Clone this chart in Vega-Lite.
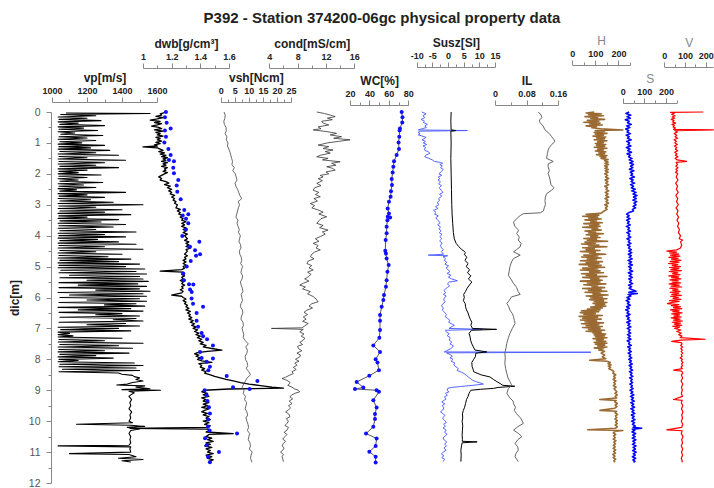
{
"$schema":"https://vega.github.io/schema/vega-lite/v6.json",
"width":662,"height":371,
"autosize":{"type":"none"},
"padding":{"left":51,"top":112,"right":1,"bottom":5},
"background":"white",
"title":{"text":"P392 - Station 374200-06gc physical property data","anchor":"middle","font":"Liberation Sans","fontSize":15,"fontWeight":"bold","color":"#222","offset":8},
"config":{"view":{"stroke":null},
"axis":{"grid":false,"domainColor":"#888","tickColor":"#888","labelFont":"Liberation Sans","labelFontSize":9,"labelFontWeight":"bold","labelColor":"#222","titleFont":"Liberation Sans","titleFontSize":12,"titleFontWeight":"bold","titleColor":"#222","labelFlush":false,"labelOverlap":false,"labelPadding":2,"titlePadding":2,"tickSize":5}},
"datasets":{
"vp":[{"d":0.03,"v":1080},{"d":0.05,"v":1560},{"d":0.08,"v":1050},{"d":0.12,"v":1250},{"d":0.16,"v":1035},{"d":0.2,"v":1200},{"d":0.24,"v":1040},{"d":0.28,"v":1280},{"d":0.32,"v":1035},{"d":0.36,"v":1150},{"d":0.4,"v":1045},{"d":0.44,"v":1300},{"d":0.48,"v":1035},{"d":0.52,"v":1180},{"d":0.56,"v":1040},{"d":0.6,"v":1260},{"d":0.64,"v":1035},{"d":0.68,"v":1130},{"d":0.72,"v":1050},{"d":0.76,"v":1290},{"d":0.8,"v":1040},{"d":0.84,"v":1200},{"d":0.88,"v":1035},{"d":0.92,"v":1250},{"d":0.96,"v":1045},{"d":1.0,"v":1170},{"d":1.04,"v":1035},{"d":1.08,"v":1300},{"d":1.12,"v":1040},{"d":1.16,"v":1220},{"d":1.2,"v":1035},{"d":1.24,"v":1330},{"d":1.28,"v":1045},{"d":1.32,"v":1250},{"d":1.36,"v":1035},{"d":1.4,"v":1380},{"d":1.44,"v":1040},{"d":1.48,"v":1200},{"d":1.52,"v":1035},{"d":1.56,"v":1420},{"d":1.6,"v":1040},{"d":1.64,"v":1300},{"d":1.68,"v":1035},{"d":1.72,"v":1250},{"d":1.76,"v":1045},{"d":1.8,"v":1380},{"d":1.84,"v":1035},{"d":1.88,"v":1200},{"d":1.92,"v":1040},{"d":1.96,"v":1150},{"d":2.0,"v":1035},{"d":2.04,"v":1280},{"d":2.08,"v":1040},{"d":2.12,"v":1200},{"d":2.16,"v":1035},{"d":2.2,"v":1150},{"d":2.24,"v":1045},{"d":2.28,"v":1290},{"d":2.32,"v":1035},{"d":2.36,"v":1180},{"d":2.4,"v":1040},{"d":2.44,"v":1250},{"d":2.48,"v":1035},{"d":2.52,"v":1140},{"d":2.56,"v":1045},{"d":2.6,"v":1420},{"d":2.64,"v":1035},{"d":2.68,"v":1200},{"d":2.72,"v":1040},{"d":2.76,"v":1300},{"d":2.8,"v":1035},{"d":2.84,"v":1220},{"d":2.88,"v":1045},{"d":2.92,"v":1350},{"d":2.96,"v":1035},{"d":3.0,"v":1520},{"d":3.04,"v":1040},{"d":3.08,"v":1250},{"d":3.12,"v":1035},{"d":3.16,"v":1400},{"d":3.2,"v":1045},{"d":3.24,"v":1300},{"d":3.28,"v":1035},{"d":3.32,"v":1450},{"d":3.36,"v":1040},{"d":3.4,"v":1200},{"d":3.44,"v":1035},{"d":3.48,"v":1380},{"d":3.52,"v":1045},{"d":3.56,"v":1280},{"d":3.6,"v":1035},{"d":3.64,"v":1420},{"d":3.68,"v":1040},{"d":3.72,"v":1350},{"d":3.76,"v":1035},{"d":3.8,"v":1250},{"d":3.84,"v":1045},{"d":3.88,"v":1480},{"d":3.92,"v":1035},{"d":3.96,"v":1300},{"d":4.0,"v":1040},{"d":4.04,"v":1420},{"d":4.08,"v":1035},{"d":4.12,"v":1260},{"d":4.16,"v":1045},{"d":4.2,"v":1380},{"d":4.24,"v":1035},{"d":4.28,"v":1480},{"d":4.32,"v":1040},{"d":4.36,"v":1300},{"d":4.4,"v":1035},{"d":4.44,"v":1520},{"d":4.48,"v":1045},{"d":4.52,"v":1250},{"d":4.56,"v":1035},{"d":4.6,"v":1400},{"d":4.64,"v":1040},{"d":4.68,"v":1320},{"d":4.72,"v":1035},{"d":4.76,"v":1450},{"d":4.8,"v":1045},{"d":4.84,"v":1380},{"d":4.88,"v":1035},{"d":4.92,"v":1500},{"d":4.96,"v":1040},{"d":5.0,"v":1420},{"d":5.04,"v":1035},{"d":5.08,"v":1530},{"d":5.12,"v":1050},{"d":5.16,"v":1480},{"d":5.2,"v":1040},{"d":5.24,"v":1540},{"d":5.28,"v":1100},{"d":5.32,"v":1500},{"d":5.36,"v":1045},{"d":5.4,"v":1520},{"d":5.44,"v":1200},{"d":5.48,"v":1550},{"d":5.52,"v":1040},{"d":5.56,"v":1490},{"d":5.6,"v":1150},{"d":5.64,"v":1540},{"d":5.68,"v":1040},{"d":5.72,"v":1500},{"d":5.76,"v":1250},{"d":5.8,"v":1560},{"d":5.84,"v":1035},{"d":5.88,"v":1520},{"d":5.92,"v":1100},{"d":5.96,"v":1540},{"d":6.0,"v":1045},{"d":6.04,"v":1500},{"d":6.08,"v":1200},{"d":6.12,"v":1540},{"d":6.16,"v":1040},{"d":6.2,"v":1480},{"d":6.24,"v":1300},{"d":6.28,"v":1530},{"d":6.32,"v":1035},{"d":6.36,"v":1450},{"d":6.4,"v":1150},{"d":6.44,"v":1520},{"d":6.48,"v":1040},{"d":6.52,"v":1400},{"d":6.56,"v":1250},{"d":6.6,"v":1500},{"d":6.64,"v":1045},{"d":6.68,"v":1480},{"d":6.72,"v":1350},{"d":6.76,"v":1520},{"d":6.8,"v":1040},{"d":6.84,"v":1420},{"d":6.88,"v":1200},{"d":6.92,"v":1500},{"d":6.96,"v":1035},{"d":7.0,"v":1380},{"d":7.04,"v":1050},{"d":7.08,"v":1450},{"d":7.12,"v":1035},{"d":7.16,"v":1100},{"d":7.2,"v":1035},{"d":7.24,"v":1120},{"d":7.28,"v":1035},{"d":7.32,"v":1400},{"d":7.36,"v":1040},{"d":7.4,"v":1300},{"d":7.44,"v":1035},{"d":7.48,"v":1520},{"d":7.52,"v":1045},{"d":7.56,"v":1380},{"d":7.6,"v":1035},{"d":7.64,"v":1460},{"d":7.68,"v":1040},{"d":7.72,"v":1300},{"d":7.76,"v":1035},{"d":7.8,"v":1440},{"d":7.84,"v":1045},{"d":7.88,"v":1250},{"d":7.92,"v":1035},{"d":7.96,"v":1350},{"d":8.0,"v":1040},{"d":8.04,"v":1150},{"d":8.08,"v":1035},{"d":8.12,"v":1470},{"d":8.16,"v":1045},{"d":8.2,"v":1520},{"d":8.24,"v":1040},{"d":8.28,"v":1480},{"d":8.32,"v":1060},{"d":8.36,"v":1500},{"d":8.4,"v":1040},{"d":8.44,"v":1380},{"d":8.48,"v":1400},{"d":8.52,"v":1460},{"d":8.56,"v":1470},{"d":8.6,"v":1500},{"d":8.65,"v":1480},{"d":8.7,"v":1520},{"d":8.75,"v":1460},{"d":8.8,"v":1430},{"d":8.83,"v":1370},{"d":8.86,"v":1530},{"d":8.9,"v":1480},{"d":8.95,"v":1560},{"d":8.98,"v":1400},{"d":9.0,"v":1620},{"d":9.03,"v":1440},{"d":9.08,"v":1470},{"d":9.15,"v":1450},{"d":9.2,"v":1440},{"d":9.3,"v":1455},{"d":9.4,"v":1445},{"d":9.5,"v":1450},{"d":9.6,"v":1440},{"d":9.7,"v":1455},{"d":9.8,"v":1445},{"d":9.9,"v":1450},{"d":10.0,"v":1440},{"d":10.05,"v":1460},{"d":10.1,"v":1140},{"d":10.13,"v":1450},{"d":10.17,"v":1530},{"d":10.2,"v":1430},{"d":10.25,"v":1500},{"d":10.3,"v":1450},{"d":10.4,"v":1440},{"d":10.5,"v":1450},{"d":10.6,"v":1445},{"d":10.7,"v":1450},{"d":10.78,"v":1440},{"d":10.8,"v":1035},{"d":10.83,"v":1450},{"d":10.9,"v":1445},{"d":11.0,"v":1450},{"d":11.05,"v":1100},{"d":11.08,"v":1440},{"d":11.15,"v":1480},{"d":11.2,"v":1380},{"d":11.24,"v":1520},{"d":11.28,"v":1400},{"d":11.32,"v":1450}],
"dwb":[{"d":0.02,"v":1.15},{"d":0.06,"v":1.12},{"d":0.1,"v":1.13},{"d":0.14,"v":1.09},{"d":0.18,"v":1.14},{"d":0.22,"v":1.1},{"d":0.26,"v":1.05},{"d":0.3,"v":1.12},{"d":0.34,"v":1.08},{"d":0.38,"v":1.13},{"d":0.42,"v":1.1},{"d":0.46,"v":1.06},{"d":0.5,"v":1.11},{"d":0.54,"v":1.13},{"d":0.58,"v":1.08},{"d":0.62,"v":1.14},{"d":0.66,"v":1.09},{"d":0.7,"v":1.12},{"d":0.74,"v":1.1},{"d":0.78,"v":1.14},{"d":0.82,"v":1.09},{"d":0.86,"v":1.12},{"d":0.9,"v":1.1},{"d":0.94,"v":1.13},{"d":0.98,"v":1.09},{"d":1.02,"v":1.12},{"d":1.06,"v":1.08},{"d":1.1,"v":1.1},{"d":1.13,"v":1.0},{"d":1.16,"v":1.1},{"d":1.2,"v":1.12},{"d":1.24,"v":1.14},{"d":1.28,"v":1.11},{"d":1.32,"v":1.15},{"d":1.36,"v":1.12},{"d":1.4,"v":1.16},{"d":1.44,"v":1.13},{"d":1.48,"v":1.17},{"d":1.52,"v":1.14},{"d":1.56,"v":1.16},{"d":1.6,"v":1.13},{"d":1.64,"v":1.17},{"d":1.68,"v":1.14},{"d":1.72,"v":1.16},{"d":1.76,"v":1.13},{"d":1.8,"v":1.17},{"d":1.84,"v":1.15},{"d":1.88,"v":1.16},{"d":1.92,"v":1.14},{"d":1.96,"v":1.17},{"d":2.0,"v":1.15},{"d":2.05,"v":1.13},{"d":2.1,"v":1.11},{"d":2.15,"v":1.13},{"d":2.2,"v":1.12},{"d":2.25,"v":1.16},{"d":2.3,"v":1.18},{"d":2.35,"v":1.15},{"d":2.4,"v":1.19},{"d":2.45,"v":1.17},{"d":2.5,"v":1.2},{"d":2.55,"v":1.18},{"d":2.6,"v":1.2},{"d":2.65,"v":1.19},{"d":2.7,"v":1.22},{"d":2.75,"v":1.2},{"d":2.8,"v":1.22},{"d":2.85,"v":1.21},{"d":2.9,"v":1.23},{"d":2.95,"v":1.22},{"d":3.0,"v":1.24},{"d":3.1,"v":1.23},{"d":3.15,"v":1.26},{"d":3.2,"v":1.24},{"d":3.25,"v":1.26},{"d":3.3,"v":1.25},{"d":3.35,"v":1.28},{"d":3.4,"v":1.26},{"d":3.45,"v":1.28},{"d":3.5,"v":1.27},{"d":3.55,"v":1.3},{"d":3.6,"v":1.27},{"d":3.65,"v":1.29},{"d":3.7,"v":1.27},{"d":3.75,"v":1.3},{"d":3.8,"v":1.28},{"d":3.85,"v":1.3},{"d":3.9,"v":1.28},{"d":3.95,"v":1.31},{"d":4.0,"v":1.29},{"d":4.1,"v":1.31},{"d":4.15,"v":1.29},{"d":4.2,"v":1.32},{"d":4.25,"v":1.3},{"d":4.3,"v":1.32},{"d":4.35,"v":1.3},{"d":4.4,"v":1.33},{"d":4.45,"v":1.3},{"d":4.5,"v":1.31},{"d":4.6,"v":1.29},{"d":4.65,"v":1.31},{"d":4.7,"v":1.29},{"d":4.75,"v":1.3},{"d":4.8,"v":1.28},{"d":4.85,"v":1.3},{"d":4.9,"v":1.28},{"d":4.95,"v":1.3},{"d":5.0,"v":1.28},{"d":5.05,"v":1.29},{"d":5.1,"v":1.27},{"d":5.15,"v":1.12},{"d":5.18,"v":1.28},{"d":5.25,"v":1.27},{"d":5.3,"v":1.29},{"d":5.35,"v":1.27},{"d":5.4,"v":1.28},{"d":5.45,"v":1.26},{"d":5.5,"v":1.28},{"d":5.55,"v":1.27},{"d":5.6,"v":1.29},{"d":5.65,"v":1.27},{"d":5.7,"v":1.28},{"d":5.75,"v":1.26},{"d":5.8,"v":1.28},{"d":5.85,"v":1.27},{"d":5.92,"v":1.2},{"d":5.96,"v":1.27},{"d":6.0,"v":1.28},{"d":6.05,"v":1.3},{"d":6.1,"v":1.28},{"d":6.15,"v":1.3},{"d":6.2,"v":1.29},{"d":6.25,"v":1.31},{"d":6.3,"v":1.3},{"d":6.35,"v":1.32},{"d":6.4,"v":1.3},{"d":6.45,"v":1.33},{"d":6.5,"v":1.31},{"d":6.55,"v":1.33},{"d":6.6,"v":1.32},{"d":6.65,"v":1.34},{"d":6.7,"v":1.32},{"d":6.75,"v":1.35},{"d":6.8,"v":1.33},{"d":6.85,"v":1.36},{"d":6.9,"v":1.34},{"d":6.95,"v":1.37},{"d":7.0,"v":1.35},{"d":7.05,"v":1.38},{"d":7.1,"v":1.36},{"d":7.15,"v":1.39},{"d":7.2,"v":1.37},{"d":7.25,"v":1.4},{"d":7.3,"v":1.38},{"d":7.35,"v":1.41},{"d":7.4,"v":1.39},{"d":7.45,"v":1.42},{"d":7.5,"v":1.4},{"d":7.55,"v":1.44},{"d":7.6,"v":1.42},{"d":7.65,"v":1.48},{"d":7.7,"v":1.55},{"d":7.74,"v":1.45},{"d":7.78,"v":1.38},{"d":7.82,"v":1.36},{"d":7.86,"v":1.39},{"d":7.9,"v":1.37},{"d":7.95,"v":1.4},{"d":8.0,"v":1.38},{"d":8.05,"v":1.41},{"d":8.1,"v":1.48},{"d":8.14,"v":1.39},{"d":8.2,"v":1.41},{"d":8.25,"v":1.4},{"d":8.3,"v":1.43},{"d":8.35,"v":1.41},{"d":8.4,"v":1.44},{"d":8.45,"v":1.43},{"d":8.5,"v":1.47},{"d":8.55,"v":1.5},{"d":8.6,"v":1.54},{"d":8.65,"v":1.58},{"d":8.7,"v":1.63},{"d":8.75,"v":1.68},{"d":8.8,"v":1.74},{"d":8.85,"v":1.82},{"d":8.9,"v":1.9},{"d":8.93,"v":1.98},{"d":8.96,"v":1.6},{"d":9.0,"v":1.43},{"d":9.05,"v":1.41},{"d":9.1,"v":1.45},{"d":9.15,"v":1.42},{"d":9.2,"v":1.46},{"d":9.25,"v":1.41},{"d":9.3,"v":1.44},{"d":9.35,"v":1.42},{"d":9.4,"v":1.46},{"d":9.45,"v":1.42},{"d":9.5,"v":1.45},{"d":9.55,"v":1.41},{"d":9.6,"v":1.46},{"d":9.65,"v":1.43},{"d":9.7,"v":1.41},{"d":9.75,"v":1.45},{"d":9.8,"v":1.42},{"d":9.85,"v":1.46},{"d":9.9,"v":1.44},{"d":9.95,"v":1.47},{"d":10.0,"v":1.42},{"d":10.05,"v":1.46},{"d":10.1,"v":1.43},{"d":10.15,"v":1.47},{"d":10.2,"v":1.44},{"d":10.23,"v":0.91},{"d":10.26,"v":1.45},{"d":10.3,"v":1.47},{"d":10.35,"v":1.44},{"d":10.4,"v":1.63},{"d":10.43,"v":1.46},{"d":10.5,"v":1.44},{"d":10.55,"v":1.48},{"d":10.6,"v":1.45},{"d":10.65,"v":1.49},{"d":10.7,"v":1.44},{"d":10.75,"v":1.47},{"d":10.8,"v":1.43},{"d":10.85,"v":1.48},{"d":10.9,"v":1.44},{"d":10.95,"v":1.47},{"d":11.0,"v":1.45},{"d":11.05,"v":1.49},{"d":11.1,"v":1.44},{"d":11.15,"v":1.48},{"d":11.2,"v":1.45},{"d":11.25,"v":1.49},{"d":11.3,"v":1.46},{"d":11.33,"v":1.47}],
"dwbp":[{"d":0.0,"v":1.16},{"d":0.17,"v":1.153},{"d":0.35,"v":1.165},{"d":0.53,"v":1.193},{"d":0.6,"v":1.153},{"d":0.8,"v":1.16},{"d":0.99,"v":1.149},{"d":1.2,"v":1.177},{"d":1.39,"v":1.193},{"d":1.55,"v":1.181},{"d":1.59,"v":1.216},{"d":1.8,"v":1.211},{"d":1.98,"v":1.216},{"d":2.2,"v":1.246},{"d":2.38,"v":1.235},{"d":2.58,"v":1.239},{"d":2.82,"v":1.263},{"d":3.17,"v":1.288},{"d":3.31,"v":1.316},{"d":3.35,"v":1.277},{"d":3.45,"v":1.3},{"d":3.6,"v":1.316},{"d":3.8,"v":1.3},{"d":4.01,"v":1.274},{"d":4.2,"v":1.393},{"d":4.36,"v":1.328},{"d":4.47,"v":1.363},{"d":4.6,"v":1.398},{"d":4.65,"v":1.37},{"d":4.82,"v":1.333},{"d":5.0,"v":1.305},{"d":5.22,"v":1.281},{"d":5.44,"v":1.286},{"d":5.57,"v":1.321},{"d":5.58,"v":1.351},{"d":5.74,"v":1.328},{"d":5.82,"v":1.34},{"d":6.03,"v":1.339},{"d":6.2,"v":1.349},{"d":6.3,"v":1.419},{"d":6.5,"v":1.374},{"d":6.75,"v":1.374},{"d":6.95,"v":1.384},{"d":7.15,"v":1.409},{"d":7.25,"v":1.419},{"d":7.35,"v":1.447},{"d":7.55,"v":1.488},{"d":7.76,"v":1.398},{"d":7.96,"v":1.409},{"d":7.97,"v":1.488},{"d":8.08,"v":1.444},{"d":8.24,"v":1.467},{"d":8.35,"v":1.456},{"d":8.54,"v":1.584},{"d":8.7,"v":1.798},{"d":8.9,"v":1.628},{"d":8.96,"v":1.744},{"d":9.0,"v":1.43},{"d":9.16,"v":1.444},{"d":9.35,"v":1.45},{"d":9.55,"v":1.46},{"d":9.75,"v":1.467},{"d":9.95,"v":1.455},{"d":10.18,"v":1.453},{"d":10.3,"v":1.465},{"d":10.4,"v":1.656},{"d":10.55,"v":1.433},{"d":10.78,"v":1.444},{"d":11.0,"v":1.53},{"d":11.15,"v":1.453},{"d":11.33,"v":1.467}],
"vsh":[{"d":0.0,"v":1.2},{"d":0.1,"v":1.6},{"d":0.2,"v":1.5},{"d":0.3,"v":1.1},{"d":0.4,"v":1.3},{"d":0.5,"v":1.9},{"d":0.6,"v":2.0},{"d":0.7,"v":1.6},{"d":0.8,"v":2.2},{"d":0.9,"v":2.0},{"d":1.0,"v":2.6},{"d":1.1,"v":2.4},{"d":1.2,"v":2.9},{"d":1.3,"v":3.3},{"d":1.4,"v":3.6},{"d":1.5,"v":3.9},{"d":1.6,"v":4.2},{"d":1.7,"v":4.0},{"d":1.8,"v":4.8},{"d":1.9,"v":4.3},{"d":2.0,"v":5.2},{"d":2.1,"v":5.5},{"d":2.2,"v":5.8},{"d":2.3,"v":5.1},{"d":2.4,"v":5.4},{"d":2.5,"v":6.0},{"d":2.6,"v":6.4},{"d":2.7,"v":6.8},{"d":2.8,"v":7.5},{"d":2.9,"v":6.2},{"d":3.0,"v":6.7},{"d":3.1,"v":6.3},{"d":3.2,"v":6.0},{"d":3.3,"v":5.7},{"d":3.4,"v":5.4},{"d":3.5,"v":6.1},{"d":3.6,"v":5.8},{"d":3.7,"v":6.2},{"d":3.8,"v":6.6},{"d":3.9,"v":6.3},{"d":4.0,"v":7.0},{"d":4.1,"v":6.7},{"d":4.2,"v":6.5},{"d":4.3,"v":7.1},{"d":4.4,"v":7.2},{"d":4.5,"v":6.6},{"d":4.6,"v":6.8},{"d":4.7,"v":7.3},{"d":4.8,"v":7.5},{"d":4.9,"v":7.1},{"d":5.0,"v":7.8},{"d":5.1,"v":7.4},{"d":5.2,"v":7.2},{"d":5.3,"v":7.8},{"d":5.4,"v":7.6},{"d":5.5,"v":7.0},{"d":5.6,"v":7.3},{"d":5.7,"v":7.7},{"d":5.8,"v":7.9},{"d":5.9,"v":7.3},{"d":6.0,"v":7.5},{"d":6.1,"v":7.8},{"d":6.2,"v":7.2},{"d":6.3,"v":7.0},{"d":6.4,"v":7.7},{"d":6.5,"v":7.9},{"d":6.6,"v":7.4},{"d":6.7,"v":7.2},{"d":6.8,"v":7.9},{"d":6.9,"v":8.1},{"d":7.0,"v":7.6},{"d":7.1,"v":7.9},{"d":7.2,"v":8.2},{"d":7.3,"v":8.0},{"d":7.4,"v":8.8},{"d":7.5,"v":9.8},{"d":7.6,"v":8.9},{"d":7.7,"v":9.5},{"d":7.8,"v":9.3},{"d":7.9,"v":8.7},{"d":8.0,"v":8.8},{"d":8.1,"v":9.4},{"d":8.2,"v":9.6},{"d":8.3,"v":9.1},{"d":8.4,"v":10.0},{"d":8.5,"v":10.6},{"d":8.6,"v":9.4},{"d":8.7,"v":8.8},{"d":8.8,"v":8.2},{"d":8.9,"v":7.6},{"d":9.0,"v":8.3},{"d":9.1,"v":8.0},{"d":9.2,"v":8.8},{"d":9.3,"v":8.5},{"d":9.4,"v":9.2},{"d":9.5,"v":9.0},{"d":9.6,"v":8.7},{"d":9.7,"v":9.3},{"d":9.8,"v":9.6},{"d":9.9,"v":9.0},{"d":10.0,"v":9.3},{"d":10.1,"v":9.7},{"d":10.2,"v":9.9},{"d":10.3,"v":9.5},{"d":10.4,"v":10.3},{"d":10.5,"v":10.0},{"d":10.6,"v":9.8},{"d":10.7,"v":10.4},{"d":10.8,"v":10.6},{"d":10.9,"v":10.2},{"d":11.0,"v":11.2},{"d":11.1,"v":10.8},{"d":11.2,"v":10.6},{"d":11.33,"v":11.1}],
"cond":[{"d":0.0,"v":10.7},{"d":0.05,"v":11.8},{"d":0.1,"v":12.6},{"d":0.15,"v":13.3},{"d":0.2,"v":12.2},{"d":0.25,"v":12.9},{"d":0.3,"v":11.4},{"d":0.36,"v":11.6},{"d":0.42,"v":12.4},{"d":0.48,"v":10.9},{"d":0.54,"v":11.3},{"d":0.58,"v":10.2},{"d":0.63,"v":12.0},{"d":0.69,"v":13.5},{"d":0.74,"v":12.6},{"d":0.8,"v":14.2},{"d":0.85,"v":13.1},{"d":0.9,"v":15.4},{"d":0.95,"v":13.8},{"d":1.0,"v":12.2},{"d":1.07,"v":10.9},{"d":1.12,"v":12.4},{"d":1.18,"v":11.6},{"d":1.23,"v":13.0},{"d":1.28,"v":11.9},{"d":1.33,"v":12.6},{"d":1.4,"v":11.2},{"d":1.45,"v":10.7},{"d":1.5,"v":12.3},{"d":1.55,"v":11.5},{"d":1.61,"v":14.0},{"d":1.66,"v":12.8},{"d":1.72,"v":13.4},{"d":1.77,"v":12.1},{"d":1.82,"v":12.9},{"d":1.88,"v":13.3},{"d":1.94,"v":12.0},{"d":2.0,"v":12.4},{"d":2.05,"v":11.2},{"d":2.1,"v":11.6},{"d":2.16,"v":10.9},{"d":2.22,"v":11.5},{"d":2.31,"v":10.7},{"d":2.38,"v":11.3},{"d":2.45,"v":10.4},{"d":2.53,"v":10.2},{"d":2.6,"v":11.0},{"d":2.67,"v":10.5},{"d":2.74,"v":11.2},{"d":2.8,"v":10.3},{"d":2.88,"v":10.8},{"d":2.96,"v":9.8},{"d":3.03,"v":10.4},{"d":3.1,"v":10.0},{"d":3.17,"v":10.9},{"d":3.24,"v":11.6},{"d":3.3,"v":11.0},{"d":3.39,"v":12.1},{"d":3.45,"v":11.3},{"d":3.52,"v":11.0},{"d":3.6,"v":10.7},{"d":3.67,"v":11.6},{"d":3.74,"v":11.1},{"d":3.82,"v":12.3},{"d":3.88,"v":11.5},{"d":3.95,"v":11.9},{"d":4.03,"v":11.2},{"d":4.1,"v":10.5},{"d":4.18,"v":11.0},{"d":4.25,"v":10.2},{"d":4.32,"v":10.9},{"d":4.4,"v":10.6},{"d":4.46,"v":11.2},{"d":4.53,"v":10.4},{"d":4.6,"v":10.0},{"d":4.68,"v":9.8},{"d":4.75,"v":10.3},{"d":4.82,"v":9.5},{"d":4.9,"v":9.3},{"d":4.97,"v":10.0},{"d":5.04,"v":9.6},{"d":5.11,"v":10.2},{"d":5.18,"v":9.4},{"d":5.25,"v":9.9},{"d":5.33,"v":9.5},{"d":5.4,"v":9.0},{"d":5.47,"v":9.6},{"d":5.54,"v":8.8},{"d":5.6,"v":8.3},{"d":5.66,"v":9.1},{"d":5.72,"v":8.7},{"d":5.81,"v":9.8},{"d":5.88,"v":9.4},{"d":5.97,"v":10.2},{"d":6.05,"v":10.6},{"d":6.14,"v":10.9},{"d":6.2,"v":10.0},{"d":6.28,"v":9.6},{"d":6.34,"v":10.1},{"d":6.41,"v":9.3},{"d":6.48,"v":8.9},{"d":6.55,"v":9.4},{"d":6.63,"v":8.8},{"d":6.7,"v":9.2},{"d":6.77,"v":8.7},{"d":6.84,"v":9.5},{"d":6.92,"v":9.0},{"d":6.98,"v":8.6},{"d":7.0,"v":4.3},{"d":7.03,"v":8.8},{"d":7.11,"v":8.3},{"d":7.18,"v":8.9},{"d":7.25,"v":8.5},{"d":7.31,"v":9.0},{"d":7.38,"v":8.8},{"d":7.45,"v":8.3},{"d":7.52,"v":8.7},{"d":7.58,"v":8.0},{"d":7.65,"v":8.1},{"d":7.72,"v":8.6},{"d":7.8,"v":7.9},{"d":7.86,"v":8.4},{"d":7.92,"v":8.3},{"d":8.0,"v":7.7},{"d":8.06,"v":8.2},{"d":8.12,"v":7.6},{"d":8.19,"v":7.9},{"d":8.26,"v":7.4},{"d":8.33,"v":7.8},{"d":8.4,"v":7.2},{"d":8.46,"v":7.4},{"d":8.52,"v":6.8},{"d":8.58,"v":6.3},{"d":8.62,"v":5.8},{"d":8.68,"v":6.5},{"d":8.74,"v":6.9},{"d":8.78,"v":6.9},{"d":8.84,"v":6.6},{"d":8.9,"v":7.2},{"d":8.96,"v":7.6},{"d":9.0,"v":8.1},{"d":9.05,"v":8.3},{"d":9.1,"v":7.6},{"d":9.15,"v":7.2},{"d":9.21,"v":6.9},{"d":9.28,"v":7.3},{"d":9.35,"v":6.8},{"d":9.43,"v":7.2},{"d":9.5,"v":6.7},{"d":9.57,"v":7.0},{"d":9.64,"v":6.7},{"d":9.7,"v":6.3},{"d":9.78,"v":6.8},{"d":9.86,"v":6.9},{"d":9.92,"v":6.4},{"d":10.0,"v":6.7},{"d":10.07,"v":6.5},{"d":10.14,"v":6.2},{"d":10.2,"v":6.7},{"d":10.29,"v":6.5},{"d":10.36,"v":6.1},{"d":10.43,"v":6.5},{"d":10.5,"v":6.2},{"d":10.58,"v":5.9},{"d":10.65,"v":6.3},{"d":10.72,"v":6.0},{"d":10.8,"v":5.8},{"d":10.87,"v":6.1},{"d":10.94,"v":5.9},{"d":11.0,"v":5.6},{"d":11.08,"v":6.0},{"d":11.15,"v":5.8},{"d":11.22,"v":5.9},{"d":11.31,"v":6.0}],
"wc":[{"d":0.0,"v":73.2},{"d":0.17,"v":74},{"d":0.34,"v":73.8},{"d":0.53,"v":71.4},{"d":0.6,"v":71},{"d":0.8,"v":70.7},{"d":0.99,"v":70},{"d":1.2,"v":70.4},{"d":1.39,"v":68},{"d":1.59,"v":65.3},{"d":1.77,"v":64.6},{"d":1.96,"v":63.9},{"d":2.17,"v":62.9},{"d":2.36,"v":63.2},{"d":2.56,"v":62.2},{"d":2.74,"v":61.8},{"d":2.9,"v":60.1},{"d":3.12,"v":58.8},{"d":3.28,"v":60.1},{"d":3.39,"v":58.8},{"d":3.41,"v":61.3},{"d":3.5,"v":58.5},{"d":3.71,"v":57.7},{"d":3.92,"v":57.7},{"d":4.14,"v":56.7},{"d":4.49,"v":56.3},{"d":4.58,"v":57},{"d":4.74,"v":57.7},{"d":4.95,"v":59.8},{"d":5.17,"v":58.5},{"d":5.44,"v":57.7},{"d":5.65,"v":57},{"d":5.92,"v":55},{"d":6.08,"v":54.3},{"d":6.3,"v":52.6},{"d":6.57,"v":50.9},{"d":6.75,"v":50.9},{"d":7.05,"v":50.9},{"d":7.3,"v":50.2},{"d":7.55,"v":44},{"d":7.76,"v":50.9},{"d":8.0,"v":46.4},{"d":8.1,"v":48.3},{"d":8.35,"v":49.8},{"d":8.53,"v":39.9},{"d":8.73,"v":26.9},{"d":8.91,"v":33.7},{"d":8.96,"v":25.1},{"d":9.0,"v":47.4},{"d":9.05,"v":49.8},{"d":9.32,"v":44},{"d":9.56,"v":47.4},{"d":9.77,"v":45.7},{"d":9.93,"v":45.7},{"d":10.18,"v":44},{"d":10.4,"v":36.5},{"d":10.56,"v":47.4},{"d":10.8,"v":46.4},{"d":10.99,"v":39.9},{"d":11.15,"v":46.4},{"d":11.34,"v":46.4}],
"susz":[{"d":0.0,"v":1.0},{"d":0.3,"v":0.9},{"d":0.58,"v":1.0},{"d":0.6,"v":2.5},{"d":0.62,"v":0.9},{"d":1.0,"v":1.0},{"d":1.5,"v":0.9},{"d":2.0,"v":1.0},{"d":2.5,"v":1.1},{"d":3.0,"v":1.2},{"d":3.3,"v":1.3},{"d":3.6,"v":1.5},{"d":3.9,"v":1.7},{"d":4.1,"v":2.0},{"d":4.25,"v":2.6},{"d":4.35,"v":3.4},{"d":4.45,"v":4.4},{"d":4.5,"v":5.1},{"d":4.55,"v":5.6},{"d":4.6,"v":5.2},{"d":4.7,"v":6.0},{"d":4.8,"v":5.4},{"d":4.9,"v":6.4},{"d":5.0,"v":5.8},{"d":5.1,"v":6.9},{"d":5.2,"v":6.2},{"d":5.3,"v":7.3},{"d":5.4,"v":6.5},{"d":5.5,"v":7.6},{"d":5.6,"v":6.8},{"d":5.7,"v":6.1},{"d":5.8,"v":5.6},{"d":5.9,"v":5.0},{"d":6.0,"v":5.2},{"d":6.1,"v":4.9},{"d":6.2,"v":5.5},{"d":6.3,"v":5.6},{"d":6.4,"v":5.9},{"d":6.5,"v":6.4},{"d":6.6,"v":6.7},{"d":6.7,"v":7.1},{"d":6.8,"v":7.6},{"d":6.9,"v":7.3},{"d":7.0,"v":7.8},{"d":7.03,"v":15.5},{"d":7.06,"v":7.5},{"d":7.16,"v":6.7},{"d":7.25,"v":7.0},{"d":7.38,"v":7.2},{"d":7.5,"v":7.6},{"d":7.6,"v":8.1},{"d":7.7,"v":8.6},{"d":7.76,"v":12.4},{"d":7.8,"v":8.9},{"d":7.92,"v":8.7},{"d":8.0,"v":8.2},{"d":8.1,"v":7.6},{"d":8.24,"v":7.7},{"d":8.32,"v":8.0},{"d":8.4,"v":8.2},{"d":8.5,"v":10.5},{"d":8.57,"v":13.4},{"d":8.65,"v":14.5},{"d":8.72,"v":15.6},{"d":8.78,"v":16.6},{"d":8.84,"v":17.5},{"d":8.87,"v":21.3},{"d":8.91,"v":16.0},{"d":8.94,"v":14.5},{"d":8.97,"v":10.3},{"d":9.0,"v":7.3},{"d":9.05,"v":7.0},{"d":9.1,"v":6.7},{"d":9.2,"v":6.4},{"d":9.3,"v":5.9},{"d":9.43,"v":5.6},{"d":9.55,"v":5.3},{"d":9.65,"v":4.9},{"d":9.76,"v":4.6},{"d":9.9,"v":4.7},{"d":10.0,"v":4.5},{"d":10.15,"v":4.7},{"d":10.29,"v":4.6},{"d":10.45,"v":4.5},{"d":10.6,"v":4.6},{"d":10.65,"v":4.5},{"d":10.67,"v":9.3},{"d":10.7,"v":4.5},{"d":10.8,"v":4.3},{"d":10.94,"v":4.1},{"d":11.1,"v":4.2},{"d":11.31,"v":4.1}],
"suszb":[{"d":0.0,"v":-8.4},{"d":0.06,"v":-7.0},{"d":0.12,"v":-8.0},{"d":0.18,"v":-7.4},{"d":0.24,"v":-8.6},{"d":0.3,"v":-7.5},{"d":0.34,"v":-7.9},{"d":0.4,"v":-6.6},{"d":0.45,"v":-7.4},{"d":0.5,"v":-6.9},{"d":0.55,"v":-8.5},{"d":0.58,"v":-9.5},{"d":0.6,"v":6.2},{"d":0.62,"v":-8.8},{"d":0.66,"v":-9.6},{"d":0.7,"v":-8.9},{"d":0.74,"v":-9.5},{"d":0.78,"v":-8.2},{"d":0.82,"v":-7.0},{"d":0.85,"v":-7.4},{"d":0.9,"v":-8.3},{"d":0.95,"v":-7.2},{"d":1.0,"v":-7.9},{"d":1.05,"v":-6.8},{"d":1.1,"v":-8.0},{"d":1.15,"v":-7.1},{"d":1.2,"v":-7.6},{"d":1.24,"v":-7.4},{"d":1.29,"v":-6.2},{"d":1.34,"v":-5.8},{"d":1.39,"v":-7.0},{"d":1.45,"v":-7.4},{"d":1.5,"v":-6.1},{"d":1.55,"v":-5.0},{"d":1.6,"v":-4.3},{"d":1.63,"v":-2.5},{"d":1.66,"v":-1.7},{"d":1.7,"v":-2.6},{"d":1.75,"v":-1.8},{"d":1.8,"v":-2.4},{"d":1.86,"v":-1.5},{"d":1.93,"v":-2.2},{"d":2.0,"v":-2.9},{"d":2.05,"v":-2.0},{"d":2.1,"v":-3.1},{"d":2.15,"v":-2.6},{"d":2.2,"v":-3.2},{"d":2.26,"v":-2.4},{"d":2.32,"v":-3.0},{"d":2.38,"v":-2.1},{"d":2.45,"v":-2.8},{"d":2.53,"v":-2.2},{"d":2.6,"v":-1.6},{"d":2.66,"v":-2.7},{"d":2.72,"v":-2.0},{"d":2.8,"v":-3.0},{"d":2.86,"v":-2.7},{"d":2.92,"v":-3.4},{"d":3.0,"v":-3.0},{"d":3.06,"v":-4.0},{"d":3.12,"v":-3.2},{"d":3.18,"v":-4.6},{"d":3.25,"v":-3.8},{"d":3.3,"v":-4.3},{"d":3.36,"v":-3.1},{"d":3.42,"v":-3.9},{"d":3.51,"v":-3.2},{"d":3.58,"v":-2.5},{"d":3.65,"v":-3.3},{"d":3.72,"v":-2.4},{"d":3.78,"v":-2.9},{"d":3.84,"v":-2.2},{"d":3.9,"v":-2.8},{"d":3.96,"v":-1.9},{"d":4.03,"v":-2.6},{"d":4.1,"v":-2.0},{"d":4.17,"v":-2.7},{"d":4.24,"v":-1.9},{"d":4.31,"v":-2.4},{"d":4.38,"v":-2.2},{"d":4.45,"v":-1.5},{"d":4.52,"v":-2.1},{"d":4.6,"v":-1.4},{"d":4.63,"v":-6.3},{"d":4.65,"v":-0.1},{"d":4.68,"v":-1.6},{"d":4.74,"v":-0.8},{"d":4.8,"v":-1.2},{"d":4.86,"v":-0.4},{"d":4.92,"v":-1.0},{"d":4.98,"v":0.2},{"d":5.04,"v":-0.6},{"d":5.1,"v":-0.1},{"d":5.16,"v":0.6},{"d":5.22,"v":-0.3},{"d":5.28,"v":0.9},{"d":5.34,"v":0.1},{"d":5.4,"v":1.2},{"d":5.46,"v":3.0},{"d":5.5,"v":0.4},{"d":5.56,"v":-0.2},{"d":5.62,"v":0.5},{"d":5.67,"v":-0.1},{"d":5.72,"v":-0.8},{"d":5.78,"v":-1.3},{"d":5.84,"v":-0.7},{"d":5.9,"v":-1.5},{"d":5.95,"v":-0.6},{"d":6.02,"v":-1.2},{"d":6.08,"v":-1.4},{"d":6.14,"v":-0.9},{"d":6.2,"v":-1.6},{"d":6.27,"v":-2.1},{"d":6.34,"v":-1.5},{"d":6.41,"v":-1.8},{"d":6.48,"v":-1.1},{"d":6.55,"v":-0.5},{"d":6.62,"v":-0.9},{"d":6.68,"v":-0.1},{"d":6.74,"v":0.6},{"d":6.8,"v":0.2},{"d":6.86,"v":1.3},{"d":6.9,"v":2.0},{"d":6.95,"v":1.1},{"d":7.0,"v":0.3},{"d":7.03,"v":11.0},{"d":7.06,"v":-0.8},{"d":7.11,"v":-0.6},{"d":7.17,"v":0.4},{"d":7.23,"v":-0.3},{"d":7.3,"v":0.7},{"d":7.38,"v":0.4},{"d":7.44,"v":1.2},{"d":7.5,"v":0.6},{"d":7.56,"v":1.7},{"d":7.6,"v":1.5},{"d":7.66,"v":0.8},{"d":7.72,"v":-0.4},{"d":7.76,"v":-1.2},{"d":7.77,"v":45.6},{"d":7.79,"v":-0.5},{"d":7.84,"v":0.6},{"d":7.9,"v":1.4},{"d":7.95,"v":0.6},{"d":8.0,"v":1.6},{"d":8.06,"v":1.0},{"d":8.12,"v":2.2},{"d":8.18,"v":1.8},{"d":8.24,"v":2.5},{"d":8.3,"v":3.3},{"d":8.36,"v":2.9},{"d":8.42,"v":4.4},{"d":8.46,"v":5.1},{"d":8.52,"v":5.9},{"d":8.58,"v":6.6},{"d":8.63,"v":7.3},{"d":8.67,"v":7.7},{"d":8.72,"v":8.8},{"d":8.76,"v":10.2},{"d":8.8,"v":11.3},{"d":8.84,"v":8.0},{"d":8.88,"v":4.0},{"d":8.91,"v":1.0},{"d":8.94,"v":-0.1},{"d":9.0,"v":-0.3},{"d":9.05,"v":0.3},{"d":9.1,"v":-0.8},{"d":9.16,"v":-0.2},{"d":9.22,"v":-1.2},{"d":9.28,"v":-0.6},{"d":9.32,"v":-1.2},{"d":9.38,"v":-2.0},{"d":9.44,"v":-1.0},{"d":9.5,"v":-1.9},{"d":9.56,"v":-1.3},{"d":9.64,"v":-1.7},{"d":9.7,"v":-2.4},{"d":9.76,"v":-1.5},{"d":9.82,"v":-1.0},{"d":9.9,"v":-1.8},{"d":9.97,"v":-1.2},{"d":10.04,"v":-0.5},{"d":10.1,"v":-1.4},{"d":10.16,"v":-0.8},{"d":10.22,"v":-1.6},{"d":10.29,"v":-0.6},{"d":10.36,"v":-1.1},{"d":10.42,"v":-0.3},{"d":10.48,"v":-0.9},{"d":10.54,"v":-1.6},{"d":10.61,"v":-1.2},{"d":10.68,"v":-0.4},{"d":10.74,"v":-1.1},{"d":10.8,"v":-0.5},{"d":10.87,"v":-1.3},{"d":10.94,"v":-0.6},{"d":11.0,"v":-1.5},{"d":11.06,"v":-2.1},{"d":11.12,"v":-1.3},{"d":11.18,"v":-2.0},{"d":11.24,"v":-1.0},{"d":11.31,"v":-1.7}],
"il":[{"d":0.0,"v":0.110},{"d":0.1,"v":0.117},{"d":0.18,"v":0.119},{"d":0.26,"v":0.113},{"d":0.34,"v":0.114},{"d":0.45,"v":0.122},{"d":0.58,"v":0.127},{"d":0.7,"v":0.138},{"d":0.8,"v":0.144},{"d":0.9,"v":0.15},{"d":0.96,"v":0.152},{"d":1.05,"v":0.144},{"d":1.15,"v":0.138},{"d":1.23,"v":0.135},{"d":1.35,"v":0.133},{"d":1.5,"v":0.131},{"d":1.6,"v":0.148},{"d":1.68,"v":0.135},{"d":1.77,"v":0.135},{"d":1.9,"v":0.138},{"d":1.98,"v":0.135},{"d":2.1,"v":0.138},{"d":2.2,"v":0.14},{"d":2.35,"v":0.142},{"d":2.45,"v":0.15},{"d":2.53,"v":0.144},{"d":2.64,"v":0.131},{"d":2.75,"v":0.128},{"d":2.86,"v":0.127},{"d":3.0,"v":0.128},{"d":3.1,"v":0.125},{"d":3.2,"v":0.123},{"d":3.26,"v":0.115},{"d":3.29,"v":0.072},{"d":3.35,"v":0.064},{"d":3.45,"v":0.055},{"d":3.56,"v":0.047},{"d":3.71,"v":0.051},{"d":3.82,"v":0.06},{"d":3.93,"v":0.055},{"d":4.05,"v":0.062},{"d":4.14,"v":0.059},{"d":4.25,"v":0.066},{"d":4.36,"v":0.064},{"d":4.45,"v":0.055},{"d":4.52,"v":0.047},{"d":4.63,"v":0.064},{"d":4.74,"v":0.047},{"d":4.85,"v":0.042},{"d":5.0,"v":0.038},{"d":5.15,"v":0.036},{"d":5.28,"v":0.034},{"d":5.4,"v":0.04},{"d":5.54,"v":0.047},{"d":5.68,"v":0.055},{"d":5.81,"v":0.059},{"d":5.9,"v":0.064},{"d":5.98,"v":0.042},{"d":6.1,"v":0.036},{"d":6.19,"v":0.030},{"d":6.3,"v":0.035},{"d":6.41,"v":0.038},{"d":6.52,"v":0.044},{"d":6.62,"v":0.047},{"d":6.74,"v":0.049},{"d":6.84,"v":0.051},{"d":7.0,"v":0.044},{"d":7.16,"v":0.038},{"d":7.3,"v":0.034},{"d":7.48,"v":0.030},{"d":7.62,"v":0.028},{"d":7.8,"v":0.025},{"d":7.95,"v":0.026},{"d":8.13,"v":0.025},{"d":8.3,"v":0.027},{"d":8.46,"v":0.030},{"d":8.6,"v":0.033},{"d":8.72,"v":0.038},{"d":8.83,"v":0.042},{"d":8.95,"v":0.034},{"d":9.1,"v":0.030},{"d":9.25,"v":0.038},{"d":9.35,"v":0.046},{"d":9.43,"v":0.047},{"d":9.55,"v":0.052},{"d":9.65,"v":0.049},{"d":9.76,"v":0.055},{"d":9.9,"v":0.065},{"d":10.07,"v":0.072},{"d":10.18,"v":0.058},{"d":10.29,"v":0.047},{"d":10.4,"v":0.06},{"d":10.5,"v":0.068},{"d":10.6,"v":0.058},{"d":10.72,"v":0.051},{"d":10.84,"v":0.058},{"d":10.94,"v":0.059},{"d":11.05,"v":0.053},{"d":11.15,"v":0.051},{"d":11.25,"v":0.056},{"d":11.31,"v":0.059}],
"h":[{"d":0.0,"v":95},{"d":0.03,"v":60},{"d":0.06,"v":125},{"d":0.09,"v":70},{"d":0.12,"v":135},{"d":0.15,"v":55},{"d":0.18,"v":110},{"d":0.21,"v":80},{"d":0.24,"v":140},{"d":0.27,"v":65},{"d":0.3,"v":115},{"d":0.33,"v":50},{"d":0.36,"v":120},{"d":0.39,"v":75},{"d":0.42,"v":130},{"d":0.45,"v":60},{"d":0.48,"v":105},{"d":0.51,"v":85},{"d":0.54,"v":125},{"d":0.58,"v":219},{"d":0.6,"v":100},{"d":0.63,"v":140},{"d":0.66,"v":95},{"d":0.69,"v":150},{"d":0.72,"v":100},{"d":0.75,"v":135},{"d":0.78,"v":90},{"d":0.81,"v":145},{"d":0.84,"v":105},{"d":0.87,"v":140},{"d":0.9,"v":95},{"d":0.93,"v":150},{"d":0.96,"v":110},{"d":0.99,"v":135},{"d":1.02,"v":100},{"d":1.05,"v":145},{"d":1.08,"v":105},{"d":1.11,"v":140},{"d":1.14,"v":95},{"d":1.17,"v":150},{"d":1.2,"v":110},{"d":1.23,"v":135},{"d":1.26,"v":100},{"d":1.29,"v":145},{"d":1.32,"v":115},{"d":1.35,"v":140},{"d":1.38,"v":105},{"d":1.41,"v":150},{"d":1.44,"v":120},{"d":1.47,"v":145},{"d":1.5,"v":125},{"d":1.54,"v":155},{"d":1.58,"v":140},{"d":1.62,"v":155},{"d":1.66,"v":142},{"d":1.7,"v":157},{"d":1.74,"v":140},{"d":1.78,"v":152},{"d":1.82,"v":142},{"d":1.86,"v":156},{"d":1.9,"v":143},{"d":1.95,"v":155},{"d":2.0,"v":141},{"d":2.05,"v":153},{"d":2.1,"v":144},{"d":2.15,"v":158},{"d":2.2,"v":142},{"d":2.25,"v":154},{"d":2.3,"v":145},{"d":2.35,"v":157},{"d":2.4,"v":141},{"d":2.45,"v":152},{"d":2.5,"v":146},{"d":2.55,"v":158},{"d":2.6,"v":143},{"d":2.65,"v":155},{"d":2.7,"v":145},{"d":2.75,"v":158},{"d":2.8,"v":142},{"d":2.85,"v":154},{"d":2.9,"v":146},{"d":2.95,"v":157},{"d":3.0,"v":141},{"d":3.05,"v":152},{"d":3.1,"v":144},{"d":3.15,"v":150},{"d":3.2,"v":138},{"d":3.25,"v":130},{"d":3.28,"v":120},{"d":3.31,"v":60},{"d":3.34,"v":115},{"d":3.37,"v":45},{"d":3.4,"v":110},{"d":3.43,"v":70},{"d":3.46,"v":125},{"d":3.49,"v":55},{"d":3.52,"v":105},{"d":3.55,"v":80},{"d":3.58,"v":130},{"d":3.61,"v":50},{"d":3.64,"v":115},{"d":3.67,"v":75},{"d":3.7,"v":120},{"d":3.73,"v":45},{"d":3.76,"v":110},{"d":3.79,"v":85},{"d":3.82,"v":125},{"d":3.85,"v":55},{"d":3.88,"v":100},{"d":3.91,"v":70},{"d":3.94,"v":135},{"d":3.97,"v":60},{"d":4.0,"v":110},{"d":4.03,"v":80},{"d":4.06,"v":120},{"d":4.09,"v":50},{"d":4.12,"v":105},{"d":4.15,"v":65},{"d":4.18,"v":153},{"d":4.21,"v":55},{"d":4.24,"v":100},{"d":4.27,"v":40},{"d":4.3,"v":115},{"d":4.33,"v":70},{"d":4.36,"v":150},{"d":4.39,"v":45},{"d":4.42,"v":95},{"d":4.45,"v":60},{"d":4.48,"v":120},{"d":4.51,"v":35},{"d":4.54,"v":100},{"d":4.57,"v":75},{"d":4.6,"v":145},{"d":4.63,"v":50},{"d":4.66,"v":110},{"d":4.69,"v":40},{"d":4.72,"v":125},{"d":4.75,"v":65},{"d":4.78,"v":105},{"d":4.81,"v":35},{"d":4.84,"v":130},{"d":4.87,"v":60},{"d":4.9,"v":115},{"d":4.93,"v":30},{"d":4.96,"v":125},{"d":4.99,"v":70},{"d":5.02,"v":140},{"d":5.05,"v":45},{"d":5.08,"v":110},{"d":5.11,"v":35},{"d":5.14,"v":120},{"d":5.17,"v":75},{"d":5.2,"v":135},{"d":5.23,"v":40},{"d":5.26,"v":105},{"d":5.29,"v":60},{"d":5.32,"v":150},{"d":5.35,"v":45},{"d":5.38,"v":115},{"d":5.41,"v":80},{"d":5.44,"v":130},{"d":5.47,"v":35},{"d":5.5,"v":120},{"d":5.53,"v":65},{"d":5.56,"v":145},{"d":5.59,"v":50},{"d":5.62,"v":110},{"d":5.65,"v":85},{"d":5.68,"v":140},{"d":5.71,"v":45},{"d":5.74,"v":125},{"d":5.77,"v":70},{"d":5.8,"v":150},{"d":5.83,"v":55},{"d":5.86,"v":120},{"d":5.89,"v":90},{"d":5.92,"v":155},{"d":5.95,"v":60},{"d":5.98,"v":130},{"d":6.01,"v":80},{"d":6.04,"v":150},{"d":6.07,"v":75},{"d":6.1,"v":135},{"d":6.13,"v":95},{"d":6.16,"v":150},{"d":6.19,"v":90},{"d":6.22,"v":140},{"d":6.25,"v":100},{"d":6.28,"v":145},{"d":6.31,"v":80},{"d":6.34,"v":130},{"d":6.37,"v":65},{"d":6.4,"v":120},{"d":6.43,"v":40},{"d":6.46,"v":115},{"d":6.49,"v":35},{"d":6.52,"v":100},{"d":6.55,"v":50},{"d":6.58,"v":130},{"d":6.61,"v":30},{"d":6.64,"v":110},{"d":6.67,"v":45},{"d":6.7,"v":125},{"d":6.73,"v":35},{"d":6.76,"v":105},{"d":6.79,"v":55},{"d":6.82,"v":135},{"d":6.85,"v":40},{"d":6.88,"v":115},{"d":6.91,"v":60},{"d":6.94,"v":130},{"d":6.97,"v":45},{"d":7.0,"v":120},{"d":7.03,"v":70},{"d":7.06,"v":140},{"d":7.09,"v":60},{"d":7.12,"v":125},{"d":7.15,"v":90},{"d":7.18,"v":145},{"d":7.21,"v":95},{"d":7.24,"v":140},{"d":7.27,"v":100},{"d":7.3,"v":150},{"d":7.33,"v":90},{"d":7.36,"v":135},{"d":7.39,"v":105},{"d":7.42,"v":145},{"d":7.45,"v":95},{"d":7.48,"v":150},{"d":7.51,"v":100},{"d":7.54,"v":140},{"d":7.57,"v":110},{"d":7.6,"v":150},{"d":7.63,"v":95},{"d":7.66,"v":135},{"d":7.7,"v":115},{"d":7.74,"v":140},{"d":7.8,"v":125},{"d":7.86,"v":140},{"d":7.92,"v":130},{"d":7.98,"v":145},{"d":8.03,"v":75},{"d":8.06,"v":150},{"d":8.1,"v":165},{"d":8.14,"v":155},{"d":8.18,"v":168},{"d":8.22,"v":156},{"d":8.26,"v":166},{"d":8.3,"v":158},{"d":8.35,"v":172},{"d":8.4,"v":180},{"d":8.45,"v":176},{"d":8.5,"v":188},{"d":8.55,"v":179},{"d":8.6,"v":186},{"d":8.65,"v":177},{"d":8.7,"v":189},{"d":8.75,"v":180},{"d":8.8,"v":186},{"d":8.85,"v":178},{"d":8.9,"v":190},{"d":8.95,"v":181},{"d":9.0,"v":187},{"d":9.05,"v":193},{"d":9.1,"v":185},{"d":9.15,"v":195},{"d":9.2,"v":186},{"d":9.25,"v":192},{"d":9.3,"v":119},{"d":9.33,"v":190},{"d":9.38,"v":184},{"d":9.43,"v":195},{"d":9.48,"v":186},{"d":9.53,"v":193},{"d":9.58,"v":184},{"d":9.65,"v":120},{"d":9.68,"v":192},{"d":9.73,"v":185},{"d":9.78,"v":196},{"d":9.83,"v":187},{"d":9.88,"v":193},{"d":9.93,"v":185},{"d":9.98,"v":195},{"d":10.03,"v":188},{"d":10.08,"v":194},{"d":10.13,"v":186},{"d":10.18,"v":195},{"d":10.23,"v":187},{"d":10.28,"v":67},{"d":10.3,"v":219},{"d":10.33,"v":185},{"d":10.38,"v":178},{"d":10.43,"v":188},{"d":10.48,"v":179},{"d":10.53,"v":186},{"d":10.58,"v":177},{"d":10.63,"v":189},{"d":10.68,"v":180},{"d":10.73,"v":187},{"d":10.78,"v":178},{"d":10.83,"v":186},{"d":10.88,"v":177},{"d":10.93,"v":188},{"d":10.98,"v":179},{"d":11.03,"v":187},{"d":11.08,"v":176},{"d":11.13,"v":185},{"d":11.18,"v":177},{"d":11.23,"v":188},{"d":11.28,"v":180},{"d":11.33,"v":185}],
"s":[{"d":0.0,"v":30},{"d":0.05,"v":15},{"d":0.1,"v":38},{"d":0.15,"v":20},{"d":0.2,"v":35},{"d":0.25,"v":12},{"d":0.3,"v":30},{"d":0.35,"v":22},{"d":0.4,"v":40},{"d":0.45,"v":18},{"d":0.5,"v":33},{"d":0.55,"v":14},{"d":0.6,"v":28},{"d":0.65,"v":20},{"d":0.7,"v":36},{"d":0.75,"v":16},{"d":0.8,"v":30},{"d":0.85,"v":22},{"d":0.9,"v":40},{"d":0.95,"v":18},{"d":1.0,"v":32},{"d":1.05,"v":24},{"d":1.1,"v":38},{"d":1.15,"v":17},{"d":1.2,"v":34},{"d":1.25,"v":23},{"d":1.3,"v":41},{"d":1.35,"v":20},{"d":1.4,"v":35},{"d":1.45,"v":27},{"d":1.5,"v":43},{"d":1.55,"v":30},{"d":1.6,"v":48},{"d":1.65,"v":33},{"d":1.7,"v":50},{"d":1.75,"v":36},{"d":1.8,"v":47},{"d":1.85,"v":31},{"d":1.9,"v":52},{"d":1.95,"v":35},{"d":2.0,"v":46},{"d":2.05,"v":38},{"d":2.1,"v":54},{"d":2.15,"v":33},{"d":2.2,"v":48},{"d":2.25,"v":39},{"d":2.3,"v":55},{"d":2.35,"v":36},{"d":2.4,"v":50},{"d":2.45,"v":40},{"d":2.5,"v":58},{"d":2.55,"v":42},{"d":2.6,"v":62},{"d":2.65,"v":48},{"d":2.7,"v":66},{"d":2.75,"v":50},{"d":2.8,"v":63},{"d":2.85,"v":47},{"d":2.9,"v":65},{"d":2.95,"v":52},{"d":3.0,"v":62},{"d":3.05,"v":48},{"d":3.1,"v":60},{"d":3.15,"v":45},{"d":3.2,"v":50},{"d":3.25,"v":30},{"d":3.3,"v":18},{"d":3.35,"v":30},{"d":3.4,"v":20},{"d":3.45,"v":34},{"d":3.5,"v":18},{"d":3.55,"v":30},{"d":3.6,"v":22},{"d":3.65,"v":35},{"d":3.7,"v":17},{"d":3.75,"v":31},{"d":3.8,"v":24},{"d":3.85,"v":36},{"d":3.9,"v":19},{"d":3.95,"v":32},{"d":4.0,"v":25},{"d":4.05,"v":37},{"d":4.1,"v":20},{"d":4.15,"v":33},{"d":4.2,"v":26},{"d":4.25,"v":38},{"d":4.3,"v":22},{"d":4.35,"v":34},{"d":4.4,"v":27},{"d":4.45,"v":40},{"d":4.5,"v":28},{"d":4.55,"v":42},{"d":4.6,"v":26},{"d":4.65,"v":40},{"d":4.7,"v":30},{"d":4.75,"v":44},{"d":4.8,"v":25},{"d":4.85,"v":41},{"d":4.9,"v":29},{"d":4.95,"v":45},{"d":5.0,"v":27},{"d":5.05,"v":40},{"d":5.1,"v":31},{"d":5.15,"v":46},{"d":5.2,"v":26},{"d":5.25,"v":42},{"d":5.3,"v":30},{"d":5.35,"v":45},{"d":5.4,"v":28},{"d":5.45,"v":40},{"d":5.5,"v":32},{"d":5.55,"v":46},{"d":5.6,"v":27},{"d":5.65,"v":41},{"d":5.7,"v":30},{"d":5.75,"v":44},{"d":5.8,"v":62},{"d":5.83,"v":28},{"d":5.87,"v":68},{"d":5.9,"v":25},{"d":5.95,"v":38},{"d":6.0,"v":20},{"d":6.05,"v":33},{"d":6.1,"v":16},{"d":6.15,"v":30},{"d":6.2,"v":22},{"d":6.25,"v":35},{"d":6.3,"v":18},{"d":6.35,"v":31},{"d":6.4,"v":14},{"d":6.45,"v":28},{"d":6.5,"v":20},{"d":6.55,"v":34},{"d":6.6,"v":17},{"d":6.65,"v":30},{"d":6.7,"v":22},{"d":6.75,"v":36},{"d":6.8,"v":19},{"d":6.85,"v":33},{"d":6.9,"v":24},{"d":6.95,"v":38},{"d":7.0,"v":21},{"d":7.05,"v":34},{"d":7.1,"v":26},{"d":7.15,"v":37},{"d":7.2,"v":22},{"d":7.25,"v":35},{"d":7.3,"v":25},{"d":7.35,"v":38},{"d":7.4,"v":21},{"d":7.45,"v":33},{"d":7.5,"v":27},{"d":7.55,"v":40},{"d":7.6,"v":23},{"d":7.65,"v":36},{"d":7.7,"v":28},{"d":7.75,"v":40},{"d":7.8,"v":25},{"d":7.85,"v":37},{"d":7.9,"v":30},{"d":7.95,"v":42},{"d":8.0,"v":28},{"d":8.05,"v":40},{"d":8.1,"v":32},{"d":8.15,"v":44},{"d":8.2,"v":30},{"d":8.25,"v":42},{"d":8.3,"v":34},{"d":8.35,"v":46},{"d":8.4,"v":31},{"d":8.45,"v":43},{"d":8.5,"v":36},{"d":8.55,"v":47},{"d":8.6,"v":32},{"d":8.65,"v":44},{"d":8.7,"v":37},{"d":8.75,"v":46},{"d":8.8,"v":33},{"d":8.85,"v":45},{"d":8.9,"v":38},{"d":8.95,"v":48},{"d":9.0,"v":34},{"d":9.05,"v":47},{"d":9.1,"v":38},{"d":9.15,"v":52},{"d":9.2,"v":36},{"d":9.25,"v":50},{"d":9.3,"v":40},{"d":9.35,"v":54},{"d":9.4,"v":37},{"d":9.45,"v":51},{"d":9.5,"v":42},{"d":9.55,"v":55},{"d":9.6,"v":38},{"d":9.65,"v":52},{"d":9.7,"v":43},{"d":9.75,"v":56},{"d":9.8,"v":40},{"d":9.85,"v":53},{"d":9.9,"v":44},{"d":9.95,"v":57},{"d":10.0,"v":41},{"d":10.05,"v":55},{"d":10.1,"v":45},{"d":10.15,"v":58},{"d":10.2,"v":48},{"d":10.23,"v":88},{"d":10.26,"v":44},{"d":10.3,"v":56},{"d":10.35,"v":43},{"d":10.4,"v":60},{"d":10.45,"v":46},{"d":10.5,"v":58},{"d":10.55,"v":44},{"d":10.6,"v":61},{"d":10.65,"v":47},{"d":10.7,"v":57},{"d":10.75,"v":45},{"d":10.8,"v":62},{"d":10.85,"v":48},{"d":10.9,"v":59},{"d":10.95,"v":46},{"d":11.0,"v":63},{"d":11.05,"v":49},{"d":11.1,"v":58},{"d":11.15,"v":45},{"d":11.2,"v":60},{"d":11.25,"v":47},{"d":11.3,"v":57},{"d":11.33,"v":50}],
"vv":[{"d":0.0,"v":188},{"d":0.01,"v":30},{"d":0.04,"v":48},{"d":0.08,"v":36},{"d":0.12,"v":52},{"d":0.16,"v":38},{"d":0.2,"v":50},{"d":0.24,"v":34},{"d":0.28,"v":47},{"d":0.32,"v":40},{"d":0.36,"v":55},{"d":0.4,"v":37},{"d":0.44,"v":49},{"d":0.48,"v":42},{"d":0.52,"v":54},{"d":0.56,"v":45},{"d":0.58,"v":237},{"d":0.6,"v":50},{"d":0.65,"v":62},{"d":0.7,"v":48},{"d":0.75,"v":60},{"d":0.8,"v":52},{"d":0.85,"v":64},{"d":0.9,"v":47},{"d":0.95,"v":58},{"d":1.0,"v":51},{"d":1.05,"v":63},{"d":1.1,"v":49},{"d":1.15,"v":60},{"d":1.2,"v":53},{"d":1.25,"v":65},{"d":1.3,"v":50},{"d":1.35,"v":61},{"d":1.4,"v":54},{"d":1.45,"v":66},{"d":1.5,"v":52},{"d":1.55,"v":62},{"d":1.6,"v":108},{"d":1.63,"v":57},{"d":1.7,"v":64},{"d":1.75,"v":55},{"d":1.8,"v":66},{"d":1.85,"v":56},{"d":1.9,"v":63},{"d":1.95,"v":54},{"d":2.0,"v":65},{"d":2.1,"v":57},{"d":2.2,"v":66},{"d":2.3,"v":55},{"d":2.4,"v":64},{"d":2.5,"v":58},{"d":2.6,"v":67},{"d":2.7,"v":56},{"d":2.8,"v":65},{"d":2.9,"v":59},{"d":3.0,"v":68},{"d":3.1,"v":57},{"d":3.2,"v":66},{"d":3.3,"v":60},{"d":3.4,"v":69},{"d":3.5,"v":61},{"d":3.6,"v":70},{"d":3.7,"v":64},{"d":3.8,"v":73},{"d":3.9,"v":68},{"d":4.0,"v":78},{"d":4.1,"v":72},{"d":4.14,"v":88},{"d":4.2,"v":78},{"d":4.3,"v":84},{"d":4.4,"v":78},{"d":4.46,"v":60},{"d":4.5,"v":12},{"d":4.53,"v":60},{"d":4.56,"v":25},{"d":4.6,"v":70},{"d":4.63,"v":30},{"d":4.66,"v":75},{"d":4.7,"v":22},{"d":4.73,"v":68},{"d":4.76,"v":35},{"d":4.8,"v":80},{"d":4.83,"v":28},{"d":4.86,"v":72},{"d":4.9,"v":20},{"d":4.93,"v":65},{"d":4.96,"v":38},{"d":5.0,"v":78},{"d":5.03,"v":25},{"d":5.06,"v":70},{"d":5.1,"v":32},{"d":5.13,"v":82},{"d":5.16,"v":24},{"d":5.2,"v":66},{"d":5.23,"v":40},{"d":5.26,"v":76},{"d":5.3,"v":22},{"d":5.33,"v":70},{"d":5.36,"v":35},{"d":5.4,"v":80},{"d":5.43,"v":27},{"d":5.46,"v":68},{"d":5.5,"v":38},{"d":5.53,"v":78},{"d":5.56,"v":23},{"d":5.6,"v":72},{"d":5.63,"v":33},{"d":5.66,"v":84},{"d":5.7,"v":26},{"d":5.73,"v":66},{"d":5.76,"v":40},{"d":5.8,"v":76},{"d":5.83,"v":28},{"d":5.86,"v":70},{"d":5.9,"v":36},{"d":5.93,"v":82},{"d":5.96,"v":30},{"d":6.0,"v":68},{"d":6.03,"v":42},{"d":6.06,"v":80},{"d":6.1,"v":25},{"d":6.13,"v":72},{"d":6.16,"v":38},{"d":6.2,"v":15},{"d":6.23,"v":70},{"d":6.26,"v":34},{"d":6.3,"v":78},{"d":6.33,"v":44},{"d":6.36,"v":84},{"d":6.4,"v":30},{"d":6.43,"v":72},{"d":6.46,"v":40},{"d":6.5,"v":86},{"d":6.53,"v":36},{"d":6.56,"v":74},{"d":6.6,"v":46},{"d":6.63,"v":82},{"d":6.66,"v":33},{"d":6.7,"v":76},{"d":6.73,"v":45},{"d":6.76,"v":88},{"d":6.8,"v":38},{"d":6.83,"v":78},{"d":6.86,"v":48},{"d":6.9,"v":84},{"d":6.93,"v":40},{"d":6.96,"v":74},{"d":7.0,"v":50},{"d":7.05,"v":80},{"d":7.1,"v":60},{"d":7.15,"v":82},{"d":7.2,"v":70},{"d":7.25,"v":85},{"d":7.3,"v":76},{"d":7.35,"v":197},{"d":7.38,"v":80},{"d":7.42,"v":36},{"d":7.46,"v":82},{"d":7.5,"v":86},{"d":7.55,"v":79},{"d":7.6,"v":88},{"d":7.65,"v":80},{"d":7.7,"v":87},{"d":7.75,"v":81},{"d":7.8,"v":89},{"d":7.85,"v":82},{"d":7.9,"v":86},{"d":7.96,"v":76},{"d":8.0,"v":87},{"d":8.05,"v":82},{"d":8.1,"v":90},{"d":8.15,"v":83},{"d":8.2,"v":88},{"d":8.25,"v":81},{"d":8.3,"v":87},{"d":8.35,"v":45},{"d":8.38,"v":84},{"d":8.45,"v":89},{"d":8.5,"v":82},{"d":8.6,"v":88},{"d":8.7,"v":81},{"d":8.8,"v":89},{"d":8.9,"v":83},{"d":9.0,"v":87},{"d":9.1,"v":82},{"d":9.2,"v":88},{"d":9.3,"v":45},{"d":9.33,"v":86},{"d":9.4,"v":82},{"d":9.5,"v":89},{"d":9.6,"v":83},{"d":9.7,"v":90},{"d":9.8,"v":84},{"d":9.9,"v":88},{"d":10.0,"v":82},{"d":10.1,"v":89},{"d":10.2,"v":84},{"d":10.28,"v":12},{"d":10.31,"v":86},{"d":10.4,"v":82},{"d":10.5,"v":90},{"d":10.6,"v":84},{"d":10.7,"v":88},{"d":10.8,"v":82},{"d":10.9,"v":89},{"d":11.0,"v":83},{"d":11.1,"v":88},{"d":11.2,"v":82},{"d":11.3,"v":87},{"d":11.33,"v":84}]
},
"encoding":{"y":{"field":"d","type":"quantitative","scale":{"domain":[0,12],"reverse":true,"nice":false,"zero":false},
"axis":{"orient":"left","title":"dic[m]","values":[0,0.5,1,1.5,2,2.5,3,3.5,4,4.5,5,5.5,6,6.5,7,7.5,8,8.5,9,9.5,10,10.5,11,11.5,12],"labelExpr":"datum.value % 1 === 0 ? '' + datum.value : ''","tickSize":{"condition":{"test":"datum.value % 1 === 0","value":5},"value":3},"labelFontWeight":"normal","labelFontSize":10.5,"labelColor":"#555","labelPadding":6,"titlePadding":7,"titleFontSize":12}}},
"layer":[
{"data":{"name":"vp"},"mark":{"type":"line","color":"black","strokeWidth":1.1,"strokeJoin":"round"},"encoding":{"order":{"field":"d","type":"quantitative"},"x":{"field":"v","type":"quantitative","scale":{"domain":[1000,1600],"range":[1,106],"nice":false,"zero":false},"axis":{"orient":"top","offset":10,"title":"vp[m/s]","values":[1000,1100,1200,1300,1400,1500,1600],"labelExpr":"datum.value % 200 === 0 ? '' + datum.value : ''","tickSize":{"condition":{"test":"datum.value % 200 === 0","value":5},"value":3}}}}},
{"data":{"name":"dwb"},"mark":{"type":"line","color":"black","strokeWidth":1.3,"strokeJoin":"round"},"encoding":{"order":{"field":"d","type":"quantitative"},"x":{"field":"v","type":"quantitative","scale":{"domain":[1,1.6],"range":[92,178],"nice":false,"zero":false},"axis":{"orient":"top","offset":44,"title":"dwb[g/cm³]","values":[1,1.1,1.2,1.3,1.4,1.5,1.6],"labelExpr":"round(datum.value*10) % 2 === 0 ? '' + datum.value : ''","tickSize":{"condition":{"test":"round(datum.value*10) % 2 === 0","value":5},"value":3}}}}},
{"data":{"name":"dwbp"},"mark":{"type":"point","filled":true,"color":"#1010ff","size":16,"opacity":1},"encoding":{"x":{"field":"v","type":"quantitative","scale":{"domain":[1,1.6],"range":[92,178],"nice":false,"zero":false},"axis":null}}},
{"data":{"name":"vsh"},"mark":{"type":"line","color":"#444","strokeWidth":0.8,"strokeJoin":"round"},"encoding":{"order":{"field":"d","type":"quantitative"},"x":{"field":"v","type":"quantitative","scale":{"domain":[0,25],"range":[169.7,240],"nice":false,"zero":false},"axis":{"orient":"top","offset":10,"title":"vsh[Ncm]","values":[0,2.5,5,7.5,10,12.5,15,17.5,20,22.5,25],"labelExpr":"datum.value % 5 === 0 ? '' + datum.value : ''","tickSize":{"condition":{"test":"datum.value % 5 === 0","value":5},"value":3}}}}},
{"data":{"name":"cond"},"mark":{"type":"line","color":"#333","strokeWidth":0.8,"strokeJoin":"round"},"encoding":{"order":{"field":"d","type":"quantitative"},"x":{"field":"v","type":"quantitative","scale":{"domain":[4,16],"range":[218.3,303.3],"nice":false,"zero":false},"axis":{"orient":"top","offset":44,"title":"cond[mS/cm]","values":[4,6,8,10,12,14,16],"labelExpr":"datum.value % 4 === 0 ? '' + datum.value : ''","tickSize":{"condition":{"test":"datum.value % 4 === 0","value":5},"value":3}}}}},
{"data":{"name":"wc"},"mark":{"type":"line","color":"#555","strokeWidth":1},"encoding":{"order":{"field":"d","type":"quantitative"},"x":{"field":"v","type":"quantitative","scale":{"domain":[20,80],"range":[299,357.3],"nice":false,"zero":false},"axis":{"orient":"top","offset":7,"title":"WC[%]","values":[20,30,40,50,60,70,80],"labelExpr":"datum.value % 20 === 0 ? '' + datum.value : ''","tickSize":{"condition":{"test":"datum.value % 20 === 0","value":5},"value":3}}}}},
{"data":{"name":"wc"},"mark":{"type":"point","filled":true,"color":"#1010ff","size":16,"opacity":1},"encoding":{"x":{"field":"v","type":"quantitative","scale":{"domain":[20,80],"range":[299,357.3],"nice":false,"zero":false},"axis":null}}},
{"data":{"name":"suszb"},"mark":{"type":"line","color":"#4455ff","strokeWidth":0.9,"strokeJoin":"round"},"encoding":{"order":{"field":"d","type":"quantitative"},"x":{"field":"v","type":"quantitative","scale":{"domain":[-10,15],"range":[365.7,444],"nice":false,"zero":false},"axis":null}}},
{"data":{"name":"susz"},"mark":{"type":"line","color":"black","strokeWidth":1,"strokeJoin":"round"},"encoding":{"order":{"field":"d","type":"quantitative"},"x":{"field":"v","type":"quantitative","scale":{"domain":[-10,15],"range":[365.7,444],"nice":false,"zero":false},"axis":{"orient":"top","offset":45,"title":"Susz[SI]","values":[-10,-7.5,-5,-2.5,0,2.5,5,7.5,10,12.5,15],"labelExpr":"datum.value % 5 === 0 ? '' + datum.value : ''","tickSize":{"condition":{"test":"datum.value % 5 === 0","value":5},"value":3}}}}},
{"data":{"name":"il"},"mark":{"type":"line","color":"#666","strokeWidth":1,"strokeJoin":"round"},"encoding":{"order":{"field":"d","type":"quantitative"},"x":{"field":"v","type":"quantitative","scale":{"domain":[0,0.16],"range":[444,507],"nice":false,"zero":false},"axis":{"orient":"top","offset":7,"title":"IL","values":[0,0.04,0.08,0.12,0.16],"labelExpr":"round(datum.value*100) % 8 === 0 ? '' + datum.value : ''","tickSize":{"condition":{"test":"round(datum.value*100) % 8 === 0","value":5},"value":3}}}}},
{"data":{"name":"h"},"mark":{"type":"line","color":"#9a6a32","strokeWidth":1.6,"strokeJoin":"round"},"encoding":{"order":{"field":"d","type":"quantitative"},"x":{"field":"v","type":"quantitative","scale":{"domain":[0,250],"range":[521.3,579],"nice":false,"zero":false},"axis":{"orient":"top","offset":47,"title":"H","titleColor":"#888","titleFontWeight":"normal","values":[0,50,100,150,200,250],"labelExpr":"datum.value % 100 === 0 ? '' + datum.value : ''","tickSize":{"condition":{"test":"datum.value % 100 === 0","value":5},"value":3}}}}},
{"data":{"name":"s"},"mark":{"type":"line","color":"#0000ff","strokeWidth":1.5,"strokeJoin":"round"},"encoding":{"order":{"field":"d","type":"quantitative"},"x":{"field":"v","type":"quantitative","scale":{"domain":[0,250],"range":[571.7,625.7],"nice":false,"zero":false},"axis":{"orient":"top","offset":9,"title":"S","titleColor":"#888","titleFontWeight":"normal","values":[0,50,100,150,200,250],"labelExpr":"datum.value % 100 === 0 ? '' + datum.value : ''","tickSize":{"condition":{"test":"datum.value % 100 === 0","value":5},"value":3}}}}},
{"data":{"name":"vv"},"mark":{"type":"line","color":"#ff0000","strokeWidth":1.2,"strokeJoin":"round"},"encoding":{"order":{"field":"d","type":"quantitative"},"x":{"field":"v","type":"quantitative","scale":{"domain":[0,235],"range":[613.3,662],"nice":false,"zero":false},"axis":{"orient":"top","offset":45,"title":"V","titleColor":"#888","titleFontWeight":"normal","values":[0,50,100,150,200],"labelExpr":"datum.value % 100 === 0 ? '' + datum.value : ''","tickSize":{"condition":{"test":"datum.value % 100 === 0","value":5},"value":3}}}}}
],
"resolve":{"scale":{"x":"independent"},"axis":{"x":"independent"}}
}
